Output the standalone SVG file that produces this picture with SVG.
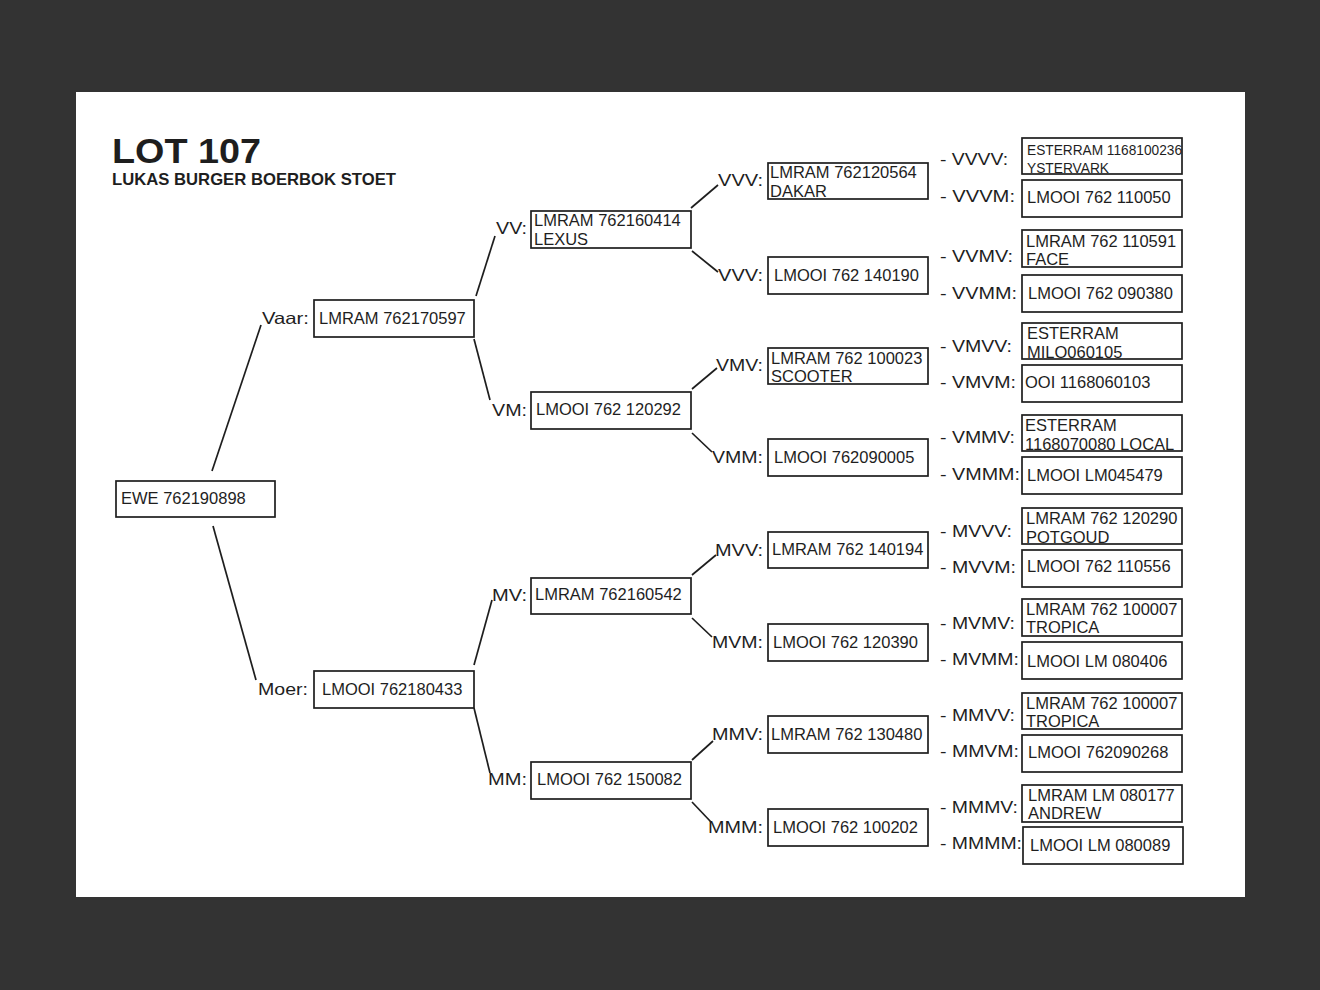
<svg xmlns="http://www.w3.org/2000/svg" width="1320" height="990" viewBox="0 0 1320 990">
<style>
.box{fill:#fff;stroke:#1e1e1e;stroke-width:1.7}
.t{font-family:"Liberation Sans",Arial,sans-serif;font-size:16.5px;fill:#1e1e1e}
.l{font-family:"Liberation Sans",Arial,sans-serif;font-size:16.5px;fill:#1e1e1e}
.s{font-family:"Liberation Sans",Arial,sans-serif;font-size:15px;fill:#1e1e1e}
.c{stroke:#1e1e1e;stroke-width:1.7;fill:none}
</style>
<rect x="0" y="0" width="1320" height="990" fill="#333333"/>
<rect x="76" y="92" width="1169" height="805" fill="#ffffff"/>
<g id="title">
<text x="112" y="163" font-family="'Liberation Sans',Arial,sans-serif" font-weight="bold" font-size="35" fill="#1e1e1e" textLength="149" lengthAdjust="spacingAndGlyphs">LOT 107</text>
<text x="112" y="185" font-family="'Liberation Sans',Arial,sans-serif" font-weight="bold" font-size="16.5" fill="#1e1e1e" textLength="284" lengthAdjust="spacingAndGlyphs">LUKAS BURGER BOERBOK STOET</text>
</g>
<g id="connectors">
<line class="c" x1="212" y1="471" x2="261" y2="325"/>
<line class="c" x1="213" y1="526" x2="256" y2="680"/>
<line class="c" x1="476" y1="296" x2="495" y2="236"/>
<line class="c" x1="474" y1="339" x2="490" y2="400"/>
<line class="c" x1="474" y1="665" x2="492" y2="600"/>
<line class="c" x1="474" y1="708" x2="490" y2="773"/>
<line class="c" x1="691" y1="208" x2="718" y2="185"/>
<line class="c" x1="692" y1="251" x2="718" y2="272"/>
<line class="c" x1="692" y1="389" x2="717" y2="368"/>
<line class="c" x1="692" y1="433" x2="712" y2="452"/>
<line class="c" x1="692" y1="575" x2="716" y2="555"/>
<line class="c" x1="692" y1="618" x2="712" y2="637"/>
<line class="c" x1="692" y1="760" x2="713" y2="741"/>
<line class="c" x1="692" y1="802" x2="711" y2="822"/>
</g>
<g id="ewe"><rect class="box" x="116" y="481" width="159" height="36"/><text class="t" x="121" y="504">EWE 762190898</text></g>
<g id="vaar"><text class="l" x="262" y="324" textLength="47" lengthAdjust="spacingAndGlyphs">Vaar:</text><rect class="box" x="314" y="300" width="160" height="37"/><text class="t" x="319" y="324">LMRAM 762170597</text></g>
<g id="moer"><text class="l" x="258" y="695" textLength="50" lengthAdjust="spacingAndGlyphs">Moer:</text><rect class="box" x="314" y="671" width="160" height="37"/><text class="t" x="322" y="695">LMOOI 762180433</text></g>
<g id="vv"><text class="l" x="496" y="234" textLength="31" lengthAdjust="spacingAndGlyphs">VV:</text><rect class="box" x="531" y="211" width="160" height="37"/><text class="t" x="534" y="226">LMRAM 762160414</text><text class="t" x="534" y="245">LEXUS</text></g>
<g id="vm"><text class="l" x="492" y="416" textLength="35" lengthAdjust="spacingAndGlyphs">VM:</text><rect class="box" x="531" y="392" width="160" height="37"/><text class="t" x="536" y="415">LMOOI 762 120292</text></g>
<g id="mv"><text class="l" x="492" y="601" textLength="35" lengthAdjust="spacingAndGlyphs">MV:</text><rect class="box" x="531" y="578" width="160" height="36"/><text class="t" x="535" y="600">LMRAM 762160542</text></g>
<g id="mm"><text class="l" x="488" y="785" textLength="39" lengthAdjust="spacingAndGlyphs">MM:</text><rect class="box" x="531" y="762" width="160" height="37"/><text class="t" x="537" y="785">LMOOI 762 150082</text></g>
<g id="vvv"><text class="l" x="718" y="186" textLength="45" lengthAdjust="spacingAndGlyphs">VVV:</text><rect class="box" x="768" y="163" width="160" height="36"/><text class="t" x="770" y="178">LMRAM 762120564</text><text class="t" x="770" y="197">DAKAR</text></g>
<g id="vvm"><text class="l" x="718" y="281" textLength="45" lengthAdjust="spacingAndGlyphs">VVV:</text><rect class="box" x="768" y="257" width="160" height="37"/><text class="t" x="774" y="281">LMOOI 762 140190</text></g>
<g id="vmv"><text class="l" x="716" y="371" textLength="47" lengthAdjust="spacingAndGlyphs">VMV:</text><rect class="box" x="768" y="348" width="160" height="36"/><text class="t" x="771" y="364">LMRAM 762 100023</text><text class="t" x="771" y="382">SCOOTER</text></g>
<g id="vmm"><text class="l" x="712" y="463" textLength="51" lengthAdjust="spacingAndGlyphs">VMM:</text><rect class="box" x="768" y="439" width="160" height="37"/><text class="t" x="774" y="463">LMOOI 762090005</text></g>
<g id="mvv"><text class="l" x="715" y="556" textLength="48" lengthAdjust="spacingAndGlyphs">MVV:</text><rect class="box" x="768" y="532" width="160" height="36"/><text class="t" x="772" y="555">LMRAM 762 140194</text></g>
<g id="mvm"><text class="l" x="712" y="648" textLength="51" lengthAdjust="spacingAndGlyphs">MVM:</text><rect class="box" x="768" y="624" width="160" height="37"/><text class="t" x="773" y="648">LMOOI 762 120390</text></g>
<g id="mmv"><text class="l" x="712" y="740" textLength="51" lengthAdjust="spacingAndGlyphs">MMV:</text><rect class="box" x="768" y="716" width="160" height="37"/><text class="t" x="771" y="740">LMRAM 762 130480</text></g>
<g id="mmm"><text class="l" x="708" y="833" textLength="55" lengthAdjust="spacingAndGlyphs">MMM:</text><rect class="box" x="768" y="809" width="160" height="37"/><text class="t" x="773" y="833">LMOOI 762 100202</text></g>
<g id="vvvv"><text class="l" x="940" y="165" textLength="68" lengthAdjust="spacingAndGlyphs">- VVVV:</text><rect class="box" x="1022" y="138" width="160" height="36"/><text class="s" x="1027" y="155" textLength="155" lengthAdjust="spacingAndGlyphs">ESTERRAM 1168100236</text><text class="s" x="1027" y="173" textLength="82" lengthAdjust="spacingAndGlyphs">YSTERVARK</text></g>
<g id="vvvm"><text class="l" x="940" y="202" textLength="75" lengthAdjust="spacingAndGlyphs">- VVVM:</text><rect class="box" x="1022" y="180" width="160" height="37"/><text class="t" x="1027" y="203">LMOOI 762 110050</text></g>
<g id="vvmv"><text class="l" x="940" y="262" textLength="73" lengthAdjust="spacingAndGlyphs">- VVMV:</text><rect class="box" x="1022" y="230" width="160" height="37"/><text class="t" x="1026" y="247">LMRAM 762 110591</text><text class="t" x="1026" y="265">FACE</text></g>
<g id="vvmm"><text class="l" x="940" y="299" textLength="77" lengthAdjust="spacingAndGlyphs">- VVMM:</text><rect class="box" x="1022" y="275" width="160" height="37"/><text class="t" x="1028" y="299">LMOOI 762 090380</text></g>
<g id="vmvv"><text class="l" x="940" y="352" textLength="72" lengthAdjust="spacingAndGlyphs">- VMVV:</text><rect class="box" x="1022" y="323" width="160" height="36"/><text class="t" x="1027" y="339">ESTERRAM</text><text class="t" x="1027" y="358">MILO060105</text></g>
<g id="vmvm"><text class="l" x="940" y="388" textLength="76" lengthAdjust="spacingAndGlyphs">- VMVM:</text><rect class="box" x="1022" y="365" width="160" height="37"/><text class="t" x="1025" y="388">OOI 1168060103</text></g>
<g id="vmmv"><text class="l" x="940" y="443" textLength="75" lengthAdjust="spacingAndGlyphs">- VMMV:</text><rect class="box" x="1022" y="415" width="160" height="36"/><text class="t" x="1025" y="431">ESTERRAM</text><text class="t" x="1025" y="450">1168070080 LOCAL</text></g>
<g id="vmmm"><text class="l" x="940" y="480" textLength="80" lengthAdjust="spacingAndGlyphs">- VMMM:</text><rect class="box" x="1022" y="457" width="160" height="37"/><text class="t" x="1027" y="481">LMOOI LM045479</text></g>
<g id="mvvv"><text class="l" x="940" y="537" textLength="72" lengthAdjust="spacingAndGlyphs">- MVVV:</text><rect class="box" x="1022" y="508" width="160" height="36"/><text class="t" x="1026" y="524">LMRAM 762 120290</text><text class="t" x="1026" y="543">POTGOUD</text></g>
<g id="mvvm"><text class="l" x="940" y="573" textLength="76" lengthAdjust="spacingAndGlyphs">- MVVM:</text><rect class="box" x="1022" y="550" width="160" height="37"/><text class="t" x="1027" y="572">LMOOI 762 110556</text></g>
<g id="mvmv"><text class="l" x="940" y="629" textLength="75" lengthAdjust="spacingAndGlyphs">- MVMV:</text><rect class="box" x="1022" y="599" width="160" height="37"/><text class="t" x="1026" y="615">LMRAM 762 100007</text><text class="t" x="1026" y="633">TROPICA</text></g>
<g id="mvmm"><text class="l" x="940" y="665" textLength="79" lengthAdjust="spacingAndGlyphs">- MVMM:</text><rect class="box" x="1022" y="642" width="160" height="37"/><text class="t" x="1027" y="667">LMOOI LM 080406</text></g>
<g id="mmvv"><text class="l" x="940" y="721" textLength="75" lengthAdjust="spacingAndGlyphs">- MMVV:</text><rect class="box" x="1022" y="693" width="160" height="36"/><text class="t" x="1026" y="709">LMRAM 762 100007</text><text class="t" x="1026" y="727">TROPICA</text></g>
<g id="mmvm"><text class="l" x="940" y="757" textLength="79" lengthAdjust="spacingAndGlyphs">- MMVM:</text><rect class="box" x="1022" y="735" width="160" height="37"/><text class="t" x="1028" y="758">LMOOI 762090268</text></g>
<g id="mmmv"><text class="l" x="940" y="813" textLength="78" lengthAdjust="spacingAndGlyphs">- MMMV:</text><rect class="box" x="1022" y="785" width="160" height="37"/><text class="t" x="1028" y="801">LMRAM LM 080177</text><text class="t" x="1028" y="819">ANDREW</text></g>
<g id="mmmm"><text class="l" x="940" y="849" textLength="82" lengthAdjust="spacingAndGlyphs">- MMMM:</text><rect class="box" x="1023" y="827" width="160" height="37"/><text class="t" x="1030" y="851">LMOOI LM 080089</text></g>
</svg>
